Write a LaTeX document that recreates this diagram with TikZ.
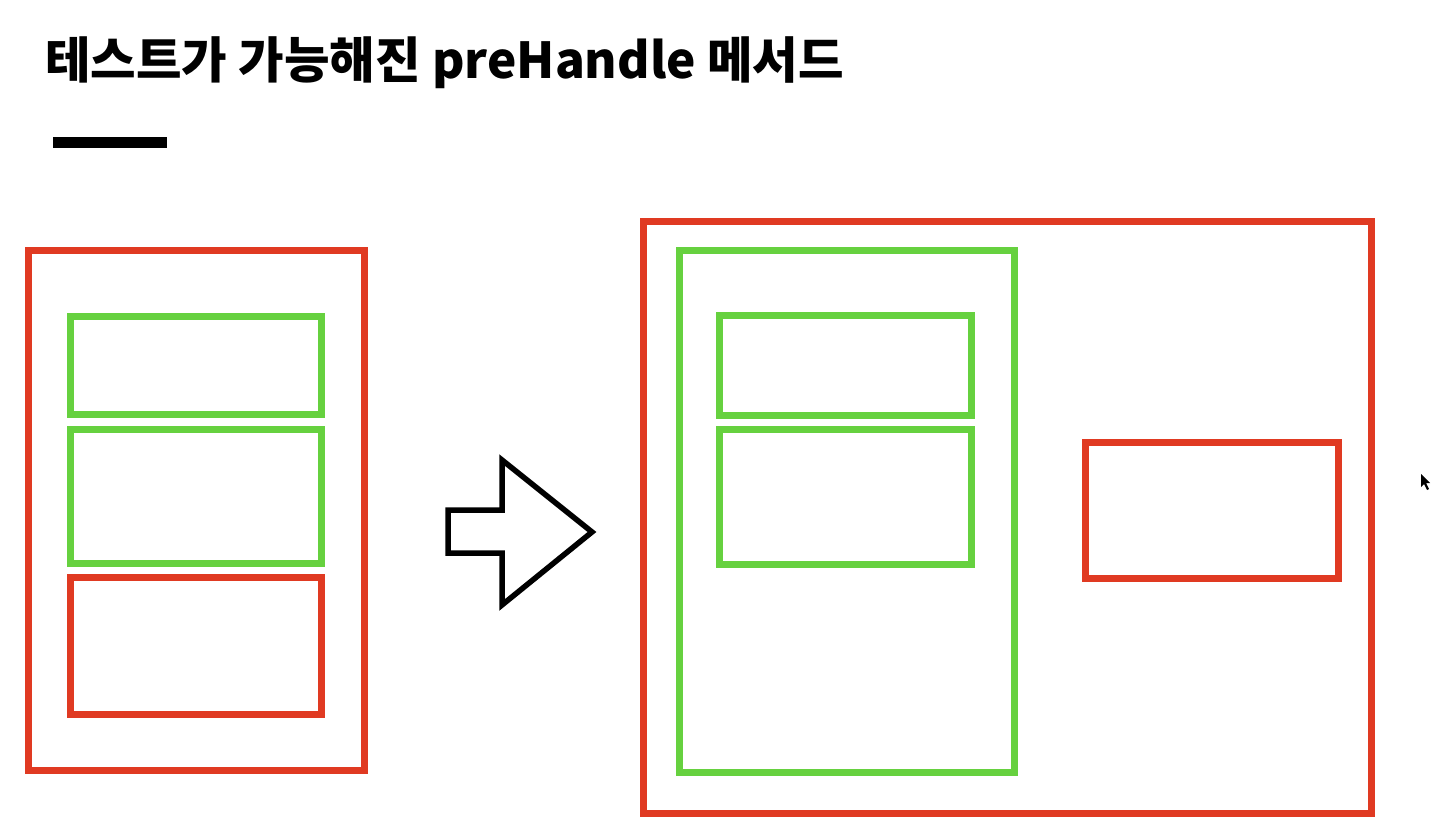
\documentclass[tikz,border=0pt]{standalone}
\usepackage{fontspec}
\newfontfamily\kr{Noto Sans CJK KR}
\definecolor{boxred}{HTML}{E03A22}
\definecolor{boxgreen}{HTML}{66D13F}
\begin{document}
\begin{tikzpicture}[x=1pt,y=-1pt,
  redbox/.style={draw=boxred,line width=7pt},
  greenbox/.style={draw=boxgreen,line width=7pt}]
\useasboundingbox[fill=white] (0,0) rectangle (1433,832);
\node[anchor=base west,inner sep=0pt,font=\kr\bfseries\fontsize{49.5}{52}\selectfont] (title) at (45,79) {테스트가 가능해진 preHandle 메서드};
\fill (53,137) rectangle (167,148);
% left
\draw[redbox] (28,250) rectangle (364,770);
\draw[greenbox] (70,316) rectangle (321,414);
\draw[greenbox] (70,429) rectangle (321,563);
\draw[redbox] (70,577) rectangle (321,714);
% arrow
\draw[line width=5.5pt,line join=miter] (448,510) -- (502,510) -- (502,460) -- (592,532) -- (502,605) -- (502,553) -- (448,553) -- cycle;
% right
\draw[redbox] (643,221) rectangle (1371,813);
\draw[greenbox] (679,250) rectangle (1014,772);
\draw[greenbox] (719,315) rectangle (971,415);
\draw[greenbox] (719,429) rectangle (971,564);
\draw[redbox] (1085,442) rectangle (1338,578);
% cursor
\fill (1421,474) -- (1421,487) -- (1424,484) -- (1427,490) -- (1429,489) -- (1426,483) -- (1430,483) -- cycle;
\end{tikzpicture}
\end{document}
